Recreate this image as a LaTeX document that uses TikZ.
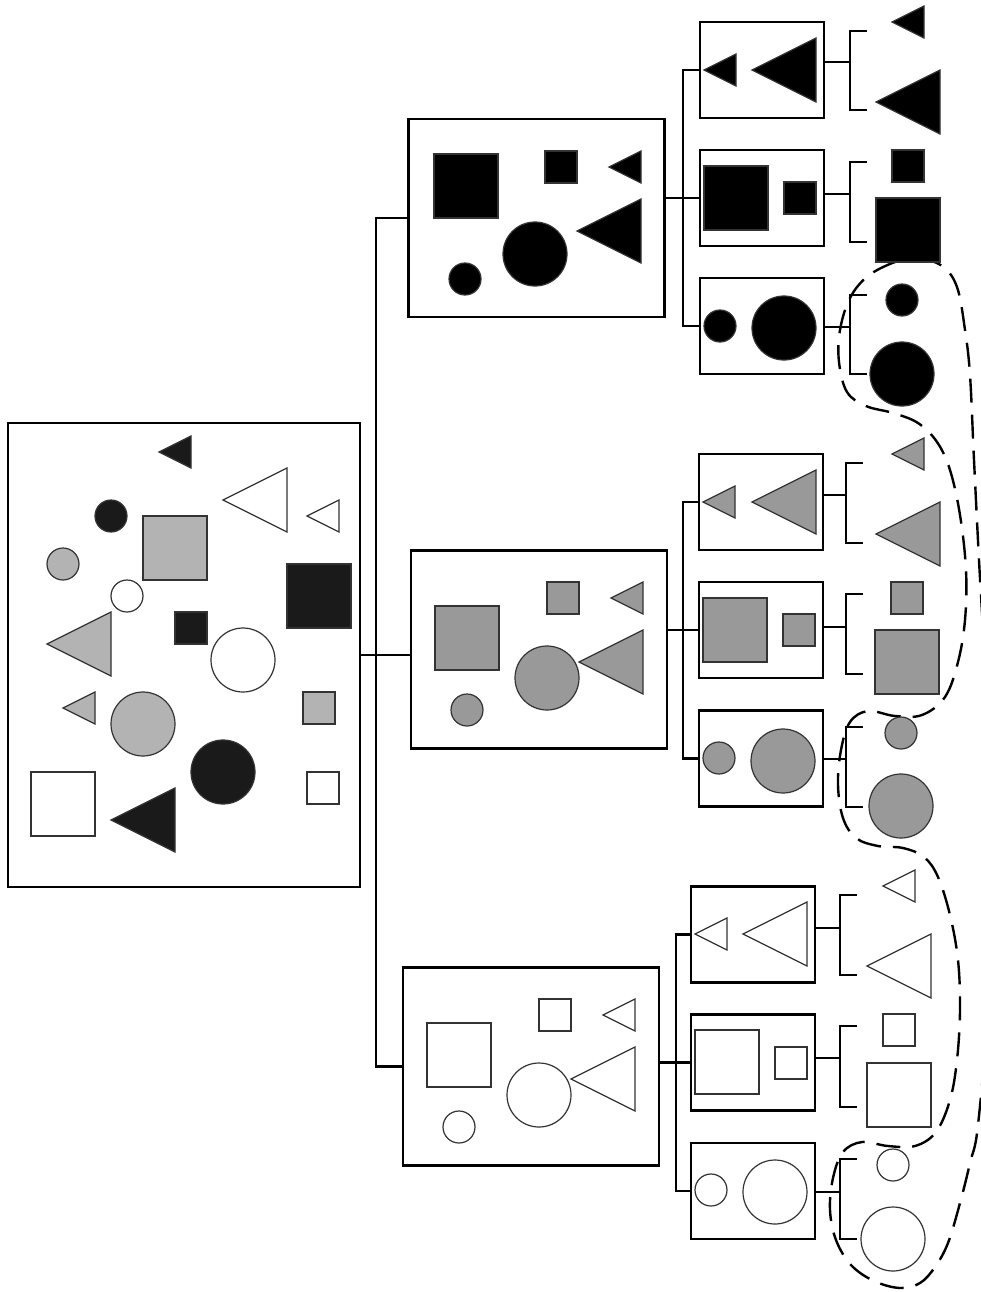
\documentclass[tikz,border=0pt]{standalone}
\usepackage{tikz}
\definecolor{Oscuro}{HTML}{1A1A1A}
\definecolor{GrisClaro}{HTML}{B3B3B3}
\definecolor{Gris}{HTML}{999999}
\definecolor{Trazo}{HTML}{333333}

% pieces: tip / top-left / centre, size in px
\newcommand{\pieceTri}[4]{\draw[piece,fill=#4] (#1,#2) -- ++(#3,-#3/2) -- ++(0,#3) -- cycle;}
\newcommand{\pieceSq}[4]{\draw[piece,fill=#4] (#1,#2) rectangle ++(#3,#3);}
\newcommand{\pieceCirc}[4]{\draw[piece,fill=#4] (#1,#2) circle[radius=#3*0.5pt];}
% box, spine x, line y, top y, bottom y
\newcommand{\sortbracket}[5]{%
  \coordinate (#1-m) at (#2,#3);
  \coordinate (#1-t) at (#2+17,#4);
  \coordinate (#1-b) at (#2+17,#5);
  \draw[link] (#1.east |- #1-m) -- (#1-m);
  \draw[link] (#1-t) -| (#1-m) |- (#1-b);}

\begin{document}
\begin{tikzpicture}[x=0.5pt,y=-0.5pt,
    frame/.style={draw,line width=1.2pt,inner sep=0pt,outer sep=0pt},
    link/.style={line width=1.2pt},
    piece/.style={draw=Trazo,line width=0.6pt},
    fence/.style={line width=1.2pt,dash pattern=on 12pt off 6pt}]
  \useasboundingbox (0,0) rectangle (981,1292);

  % dashed grouping line
  \draw[fence] plot[smooth cycle,tension=0.6] coordinates {
    (917,258) (895,262) (868,276) (850,298) (840,330) (839,362) (847,392)
    (866,406) (893,413) (918,423) (937,442) (950,470) (960,515) (966,570)
    (965,620) (958,662) (945,697) (922,715) (895,716) (868,711) (850,722)
    (841,750) (838,785) (843,818) (856,838) (878,846) (903,848) (924,857)
    (938,877) (950,915) (958,960) (960,1010) (957,1060) (950,1100) (936,1132)
    (915,1146) (888,1146) (862,1142) (843,1152) (833,1178) (830,1210) (836,1240)
    (851,1265) (874,1281) (900,1288) (920,1283) (935,1267) (948,1243) (960,1203)
    (970,1163) (978,1125) (988,1000) (992,820) (984,650) (979,560) (974,460)
    (970,375) (965,330) (957,287) (942,266)};

  % boxes
  \node[frame,minimum width=176pt,minimum height=232pt] (allBox) at (184,655) {};
  \node[frame,minimum width=128pt,minimum height=99pt] (darkBox) at (536.5,218) {};
  \node[frame,minimum width=128pt,minimum height=99pt] (grayBox) at (539,649.5) {};
  \node[frame,minimum width=128pt,minimum height=99pt] (whiteBox) at (531,1066.5) {};

  \node[frame,minimum width=62pt,minimum height=48pt] (darkTri) at (762,70) {};
  \node[frame,minimum width=62pt,minimum height=48pt] (darkSq) at (762,198) {};
  \node[frame,minimum width=62pt,minimum height=48pt] (darkCirc) at (762,326) {};
  \node[frame,minimum width=62pt,minimum height=48pt] (grayTri) at (761,502) {};
  \node[frame,minimum width=62pt,minimum height=48pt] (graySq) at (761,630) {};
  \node[frame,minimum width=62pt,minimum height=48pt] (grayCirc) at (761,758.5) {};
  \node[frame,minimum width=62pt,minimum height=48pt] (whiteTri) at (753,934.5) {};
  \node[frame,minimum width=62pt,minimum height=48pt] (whiteSq) at (753,1062.5) {};
  \node[frame,minimum width=62pt,minimum height=48pt] (whiteCirc) at (753,1191) {};

  % first split: by colour
  \coordinate (trunk) at (376,655);
  \draw[link] (allBox.east) -- (allBox.east -| grayBox.west);
  \draw[link] (darkBox.west) -| (trunk) |- (whiteBox.west);

  % second split: by shape
  \coordinate (darkSpine) at (683,198);
  \coordinate (graySpine) at (683,630);
  \coordinate (whiteSpine) at (676,1062);
  \draw[link] (darkBox.east |- darkSq.west) -- (darkSq.west);
  \draw[link] (darkTri.west) -| (darkSpine) |- (darkCirc.west);
  \draw[link] (grayBox.east |- graySq.west) -- (graySq.west);
  \draw[link] (grayTri.west) -| (graySpine) |- (grayCirc.west);
  \draw[link] (whiteBox.east |- whiteSq.west) -- (whiteSq.west);
  \draw[link] (whiteTri.west) -| (whiteSpine) |- (whiteCirc.west);

  % third split: by size
  \sortbracket{darkTri}{850}{62}{31}{110}
  \sortbracket{darkSq}{850}{194}{162}{242}
  \sortbracket{darkCirc}{850}{327}{295}{374}
  \sortbracket{grayTri}{846}{495}{463}{543}
  \sortbracket{graySq}{846}{627}{594}{674}
  \sortbracket{grayCirc}{846}{759}{727}{807}
  \sortbracket{whiteTri}{840}{928}{895}{975}
  \sortbracket{whiteSq}{840}{1058}{1026}{1107}
  \sortbracket{whiteCirc}{840}{1192}{1159}{1239}

  % mixed set
  \pieceTri{159}{452}{32}{Oscuro}
  \pieceTri{223}{500}{64}{white}
  \pieceTri{307}{516}{32}{white}
  \pieceCirc{111}{516}{16}{Oscuro}
  \pieceSq{143}{516}{64}{GrisClaro}
  \pieceCirc{63}{564}{16}{GrisClaro}
  \pieceCirc{127}{596}{16}{white}
  \pieceSq{287}{564}{64}{Oscuro}
  \pieceTri{47}{644}{64}{GrisClaro}
  \pieceSq{175}{612}{32}{Oscuro}
  \pieceCirc{243}{660}{32}{white}
  \pieceTri{63}{708}{32}{GrisClaro}
  \pieceCirc{143}{724}{32}{GrisClaro}
  \pieceSq{303}{692}{32}{GrisClaro}
  \pieceCirc{223}{772}{32}{Oscuro}
  \pieceSq{31}{772}{64}{white}
  \pieceTri{111}{820}{64}{Oscuro}
  \pieceSq{307}{772}{32}{white}

  % colour groups
  \pieceSq{434}{154}{64}{black}
  \pieceSq{545}{151}{32}{black}
  \pieceTri{609}{167}{32}{black}
  \pieceTri{577}{231}{64}{black}
  \pieceCirc{535}{254}{32}{black}
  \pieceCirc{465}{279}{16}{black}

  \pieceSq{435}{606}{64}{Gris}
  \pieceSq{547}{582}{32}{Gris}
  \pieceTri{611}{598}{32}{Gris}
  \pieceTri{579}{662}{64}{Gris}
  \pieceCirc{547}{678}{32}{Gris}
  \pieceCirc{467}{710}{16}{Gris}

  \pieceSq{427}{1023}{64}{white}
  \pieceSq{539}{999}{32}{white}
  \pieceTri{603}{1015}{32}{white}
  \pieceTri{571}{1079}{64}{white}
  \pieceCirc{539}{1095}{32}{white}
  \pieceCirc{459}{1127}{16}{white}

  % shape groups
  \pieceTri{704}{70}{32}{black}
  \pieceTri{752}{70}{64}{black}
  \pieceSq{704}{166}{64}{black}
  \pieceSq{784}{182}{32}{black}
  \pieceCirc{720}{326}{16}{black}
  \pieceCirc{784}{328}{32}{black}

  \pieceTri{703}{502}{32}{Gris}
  \pieceTri{752}{502}{64}{Gris}
  \pieceSq{703}{598}{64}{Gris}
  \pieceSq{783}{614}{32}{Gris}
  \pieceCirc{719}{758}{16}{Gris}
  \pieceCirc{783}{761}{32}{Gris}

  \pieceTri{695}{934}{32}{white}
  \pieceTri{743}{934}{64}{white}
  \pieceSq{695}{1030}{64}{white}
  \pieceSq{775}{1047}{32}{white}
  \pieceCirc{711}{1190}{16}{white}
  \pieceCirc{775}{1192}{32}{white}

  % size pairs
  \pieceTri{892}{22}{32}{black}
  \pieceTri{876}{102}{64}{black}
  \pieceSq{892}{150}{32}{black}
  \pieceSq{876}{198}{64}{black}
  \pieceCirc{902}{300}{16}{black}
  \pieceCirc{902}{374}{32}{black}

  \pieceTri{892}{454}{32}{Gris}
  \pieceTri{876}{534}{64}{Gris}
  \pieceSq{891}{582}{32}{Gris}
  \pieceSq{875}{630}{64}{Gris}
  \pieceCirc{901}{733}{16}{Gris}
  \pieceCirc{901}{806}{32}{Gris}

  \pieceTri{883}{886}{32}{white}
  \pieceTri{867}{966}{64}{white}
  \pieceSq{883}{1014}{32}{white}
  \pieceSq{867}{1063}{64}{white}
  \pieceCirc{893}{1165}{16}{white}
  \pieceCirc{893}{1239}{32}{white}
\end{tikzpicture}
\end{document}
